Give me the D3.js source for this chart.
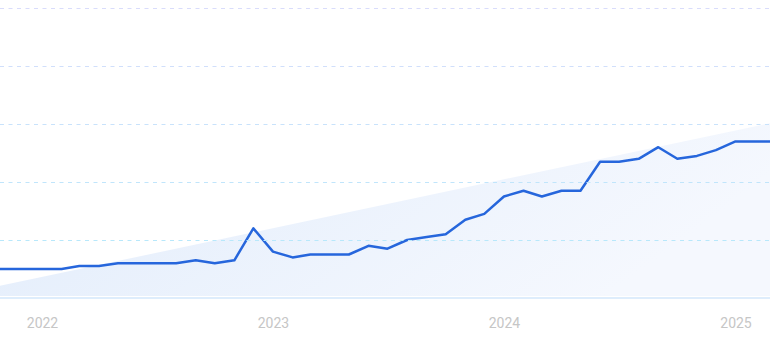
<!DOCTYPE html>
<html>
<head>
<meta charset="utf-8">
<script src="https://cdn.jsdelivr.net/npm/d3@7"></script>
<style>
  html, body { margin: 0; padding: 0; background: #fff; }
  svg { display: block; }
  .xaxis text { font-family: Roboto, "Noto Sans", sans-serif; font-size: 14px; fill: #c6c6c6; }
</style>
</head>
<body>
<svg width="770" height="343"></svg>
<script>
// Data: monthly values, Oct 2021 - Mar 2025
var months = [
  "2021-10", "2021-11", "2021-12",
  "2022-01", "2022-02", "2022-03", "2022-04", "2022-05", "2022-06",
  "2022-07", "2022-08", "2022-09", "2022-10", "2022-11", "2022-12",
  "2023-01", "2023-02", "2023-03", "2023-04", "2023-05", "2023-06",
  "2023-07", "2023-08", "2023-09", "2023-10", "2023-11", "2023-12",
  "2024-01", "2024-02", "2024-03", "2024-04", "2024-05", "2024-06",
  "2024-07", "2024-08", "2024-09", "2024-10", "2024-11", "2024-12",
  "2025-01", "2025-02", "2025-03"
];
var values = [
  10, 10, 10,
  10, 10, 11, 11, 12, 12, 12, 12, 13, 12, 13, 24,
  16, 14, 15, 15, 15, 18, 17, 20, 21, 22, 27, 29,
  35, 37, 35, 37, 37, 47, 47, 48, 52, 48, 49, 51,
  54, 54, 54
];
// linear trend, value at first and last month
var trendValues = [3, 60.5];
var gridValues = [20, 40, 60, 80, 100];
var yearTicks = ["2022", "2023", "2024", "2025"];

var svg = d3.select("svg"),
    width = +svg.attr("width"),
    height = +svg.attr("height");

var parseMonth = d3.timeParse("%Y-%m");
var parseYear = d3.timeParse("%Y");
var data = months.map(function (m, i) { return { date: parseMonth(m), value: values[i] }; });
var trend = [
  { date: data[0].date, value: trendValues[0] },
  { date: data[data.length - 1].date, value: trendValues[1] }
];

var x = d3.scaleTime()
    .domain([parseYear("2022"), parseYear("2025")])
    .range([42, 735.5]);
var y = d3.scaleLinear()
    .domain([0, 100])
    .range([298, 8]);

var defs = svg.append("defs");
defs.append("clipPath").attr("id", "plot")
  .append("rect").attr("x", 0).attr("y", 0).attr("width", width).attr("height", y(0));

var fillGrad = defs.append("linearGradient").attr("id", "trendFill")
    .attr("x1", "0%").attr("y1", "0%").attr("x2", "100%").attr("y2", "30%");
fillGrad.append("stop").attr("offset", "0%").attr("stop-color", "#e1ecfb");
fillGrad.append("stop").attr("offset", "100%").attr("stop-color", "#f5f8fe");

var gridGrad = defs.append("linearGradient").attr("id", "gridStroke")
    .attr("gradientUnits", "userSpaceOnUse")
    .attr("x1", 0).attr("y1", y(100)).attr("x2", 0).attr("y2", y(20));
gridGrad.append("stop").attr("offset", "0%").attr("stop-color", "#d9dcfb");
gridGrad.append("stop").attr("offset", "100%").attr("stop-color", "#b8e8fb");

var plot = svg.append("g").attr("clip-path", "url(#plot)");

// trend area
plot.append("path")
    .datum(trend)
    .attr("fill", "url(#trendFill)")
    .attr("d", d3.area()
        .x(function (d) { return x(d.date); })
        .y0(y(0) - 2)
        .y1(function (d) { return y(d.value); }));

// grid lines
svg.append("g")
  .selectAll("line")
  .data(gridValues)
  .enter()
  .append("line")
    .attr("x1", 0).attr("x2", width)
    .attr("y1", function (d) { return y(d) + 0.5; })
    .attr("y2", function (d) { return y(d) + 0.5; })
    .attr("stroke", "url(#gridStroke)")
    .attr("stroke-width", 1)
    .attr("stroke-dasharray", "4,4.5");

// baseline
svg.append("line")
    .attr("x1", 0).attr("x2", width)
    .attr("y1", y(0)).attr("y2", y(0))
    .attr("stroke", "#d3e7fb")
    .attr("stroke-width", 1.5);

// the series
plot.append("path")
    .datum(data)
    .attr("fill", "none")
    .attr("stroke", "#2666dc")
    .attr("stroke-width", 2.5)
    .attr("stroke-linejoin", "round")
    .attr("d", d3.line()
        .x(function (d) { return x(d.date); })
        .y(function (d) { return y(d.value); }));

// x axis
var xAxis = d3.axisBottom(x)
    .tickValues(yearTicks.map(parseYear))
    .tickFormat(d3.timeFormat("%Y"))
    .tickSize(0)
    .tickPadding(0);
svg.append("g")
    .attr("class", "xaxis")
    .attr("transform", "translate(0," + 318 + ")")
    .call(xAxis)
    .call(function (g) { g.select(".domain").remove(); });
</script>
</body>
</html>
